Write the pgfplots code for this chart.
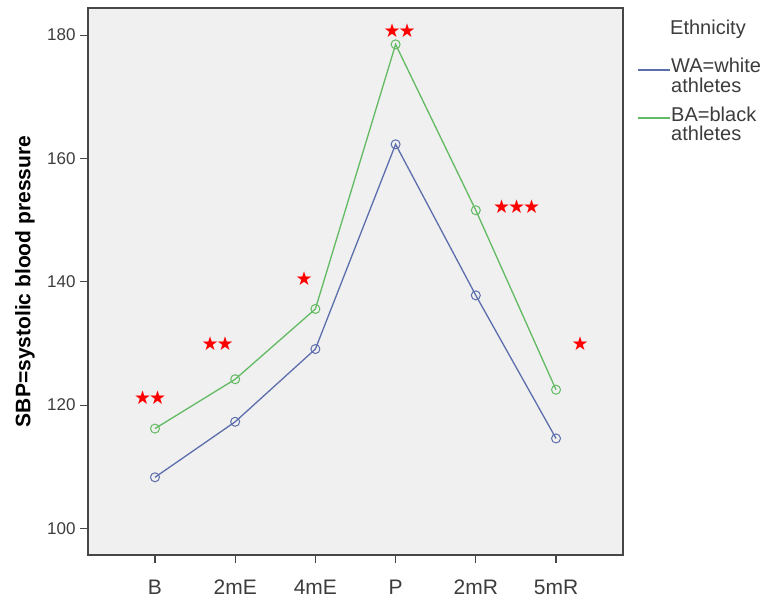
\documentclass[border=0pt]{standalone}
\usepackage{fontspec}
\setmainfont{Liberation Sans}
\newfontfamily\starfont{DejaVu Sans}
\usepackage{pgfplots}
\pgfplotsset{compat=1.18}
\definecolor{wacol}{RGB}{92,110,172}
\definecolor{bacol}{RGB}{98,186,98}
\definecolor{bgcol}{RGB}{240,240,240}
\definecolor{framecol}{RGB}{70,70,70}
\definecolor{tickcol}{RGB}{60,60,60}
\begin{document}
\begin{tikzpicture}[x=1pt,y=1pt]
\path[use as bounding box] (0,0) rectangle (775,604);
\begin{axis}[
  at={(88pt,49pt)}, anchor=south west,
  width=535pt, height=547pt, scale only axis,
  xmin=-0.835, xmax=5.835, ymin=95.7, ymax=184.4,
  xtick={0,1,2,3,4,5},
  xticklabels={B,2mE,4mE,P,2mR,5mR},
  ytick={100,120,140,160,180},
  axis background/.style={fill=bgcol},
  axis line style={framecol, line width=1.3pt},
  tick align=outside, major tick length=8pt,
  tick style={framecol, line width=1.2pt},
  xtick pos=bottom, ytick pos=left,
  /pgf/number format/assume math mode=true,
  yticklabel style={font=\fontsize{17}{17}\selectfont, text=tickcol, xshift=-1pt},
  xticklabel style={font=\fontsize{21}{21}\selectfont, text=tickcol, anchor=north, inner sep=0pt, text height=15pt, text depth=0pt, yshift=-16pt},
  ylabel={\textbf{SBP=systolic blood pressure}},
  ylabel style={font=\fontsize{21}{21}\selectfont, at={(axis description cs:-0.118,0.5)}, anchor=center},
  clip=false,
]
\addplot[wacol, line width=1.3pt, mark=o, mark size=4.5pt, mark options={line width=1pt}]
  coordinates {(0,108.3) (1,117.3) (2,129.1) (3,162.3) (4,137.8) (5,114.6)};
\addplot[bacol, line width=1.3pt, mark=o, mark size=4.5pt, mark options={line width=1pt}]
  coordinates {(0,116.2) (1,124.2) (2,135.6) (3,178.5) (4,151.6) (5,122.5)};
\tikzset{stars/.style={red, font=\starfont\fontsize{19}{19}\selectfont, inner sep=0pt}}
\node[stars] at (axis cs:-0.06,121.2) {★\kern-2pt★};
\node[stars] at (axis cs:0.78,130.0) {★\kern-2pt★};
\node[stars] at (axis cs:1.86,140.5) {★};
\node[stars] at (axis cs:3.05,180.8) {★\kern-2pt★};
\node[stars] at (axis cs:4.51,152.2) {★\kern-2pt★\kern-2pt★};
\node[stars] at (axis cs:5.30,130.0) {★};
\end{axis}
% legend
\tikzset{legtext/.style={font=\fontsize{20}{20}\selectfont, text=tickcol, inner sep=0pt}}
\node[legtext, anchor=base] at (708,604-35) {Ethnicity};
\draw[wacol, line width=1.5pt] (638,604-70) -- (670,604-70);
\node[legtext, anchor=base west] at (671,604-73) {WA=white};
\node[legtext, anchor=base west] at (671,604-93) {athletes};
\draw[bacol, line width=1.5pt] (638,604-118) -- (670,604-118);
\node[legtext, anchor=base west] at (671,604-122) {BA=black};
\node[legtext, anchor=base west] at (671,604-141) {athletes};
\end{tikzpicture}
\end{document}
